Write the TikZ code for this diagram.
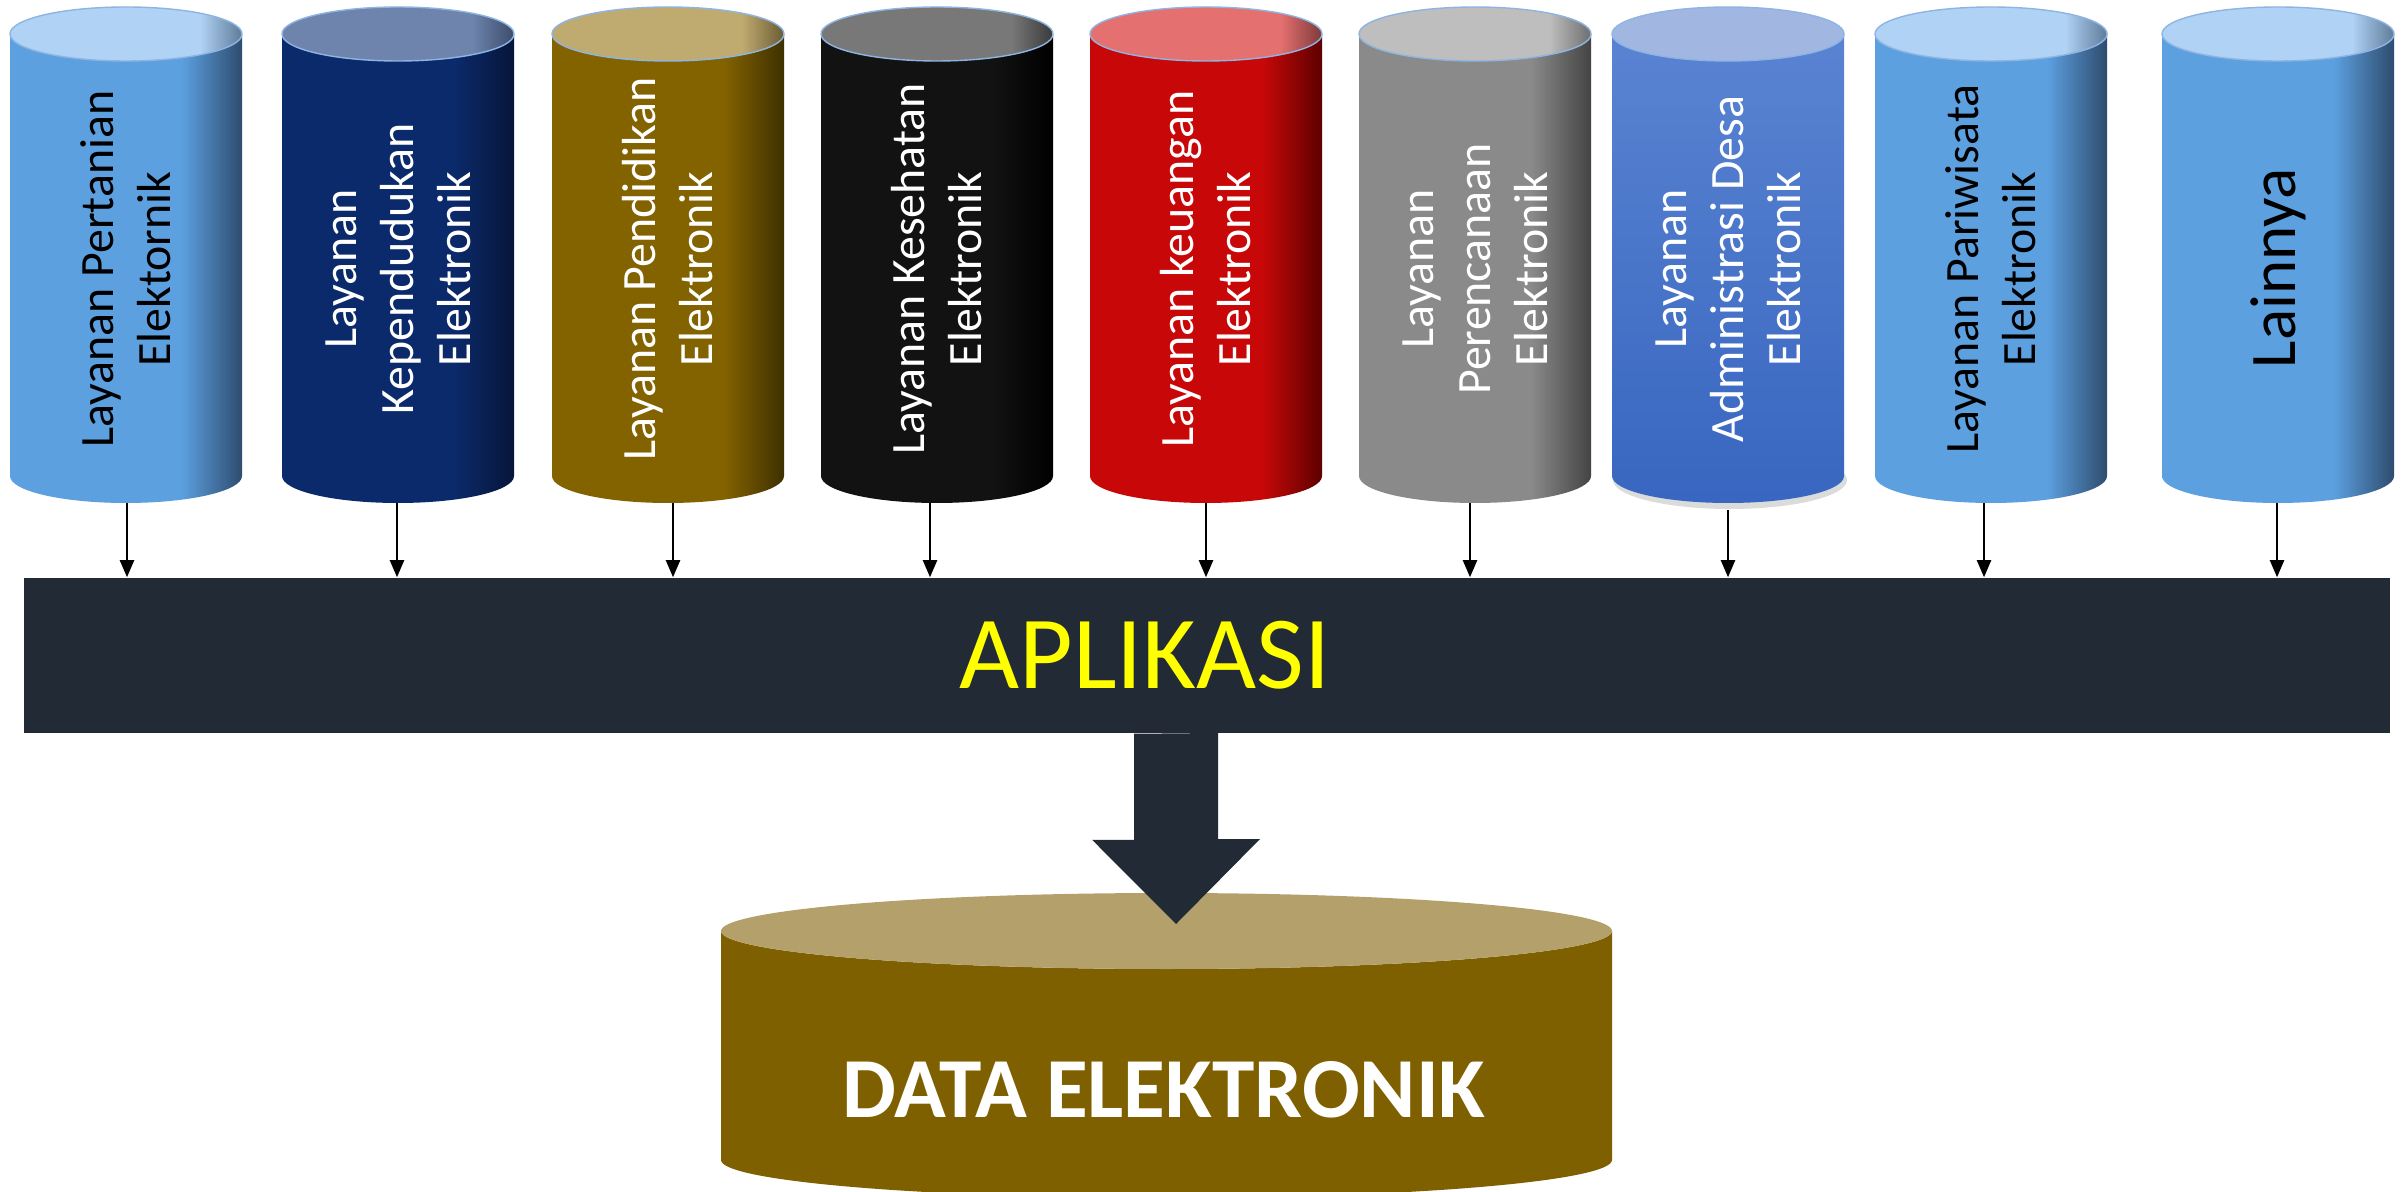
\documentclass[tikz,border=0pt]{standalone}
\usepackage{fontspec}
\setmainfont{Carlito}
\usetikzlibrary{arrows.meta}
\definecolor{barc}{HTML}{222A35}
\definecolor{rimc}{HTML}{8DB4E2}
% light blue
\definecolor{lbB}{HTML}{5CA0E0}\definecolor{lbD}{HTML}{2E4C6E}
\definecolor{lbT}{HTML}{B0D2F4}\definecolor{lbTD}{HTML}{5F7B9A}
% navy
\definecolor{nvB}{HTML}{0B2A6B}\definecolor{nvD}{HTML}{06153A}
\definecolor{nvT}{HTML}{6E84AC}\definecolor{nvTD}{HTML}{3C4C6C}
% olive
\definecolor{olB}{HTML}{836200}\definecolor{olD}{HTML}{3E3000}
\definecolor{olT}{HTML}{BFAA70}\definecolor{olTD}{HTML}{6A5C34}
% black
\definecolor{bkB}{HTML}{121212}\definecolor{bkD}{HTML}{000000}
\definecolor{bkT}{HTML}{787878}\definecolor{bkTD}{HTML}{3A3A3A}
% red
\definecolor{rdB}{HTML}{C80808}\definecolor{rdD}{HTML}{5E0000}
\definecolor{rdT}{HTML}{E57070}\definecolor{rdTD}{HTML}{7E3A3A}
% gray
\definecolor{gyB}{HTML}{8A8A8A}\definecolor{gyD}{HTML}{444444}
\definecolor{gyT}{HTML}{BEBEBE}\definecolor{gyTD}{HTML}{6E6E6E}
% blue 7
\definecolor{bsTop}{HTML}{5A84D2}\definecolor{bsBot}{HTML}{3866C0}
\definecolor{bsT}{HTML}{A2B6E2}
% data cylinder
\definecolor{dtB}{HTML}{7F6000}\definecolor{dtT}{HTML}{B3A06A}
\newcommand{\mkbodyshade}[3]{\pgfdeclarehorizontalshading{#1}{100bp}{color(0bp)=(#2); color(62bp)=(#2); color(75bp)=(#3); color(100bp)=(#3)}}
\newcommand{\mktopshade}[3]{\pgfdeclarehorizontalshading{#1}{100bp}{color(0bp)=(#2); color(66bp)=(#2); color(75bp)=(#3); color(100bp)=(#3)}}
\mkbodyshade{lbBody}{lbB}{lbD}\mktopshade{lbTop}{lbT}{lbTD}
\mkbodyshade{nvBody}{nvB}{nvD}\mktopshade{nvTop}{nvT}{nvTD}
\mkbodyshade{olBody}{olB}{olD}\mktopshade{olTop}{olT}{olTD}
\mkbodyshade{bkBody}{bkB}{bkD}\mktopshade{bkTop}{bkT}{bkTD}
\mkbodyshade{rdBody}{rdB}{rdD}\mktopshade{rdTop}{rdT}{rdTD}
\mkbodyshade{gyBody}{gyB}{gyD}\mktopshade{gyTop}{gyT}{gyTD}
\newcommand{\cylshape}[3]{%
  \path[#2] ({#1-116},-34) -- ({#1-116},-476) arc[start angle=180,end angle=360,x radius=116,y radius=27] -- ({#1+116},-34) arc[start angle=0,end angle=-180,x radius=116,y radius=27] -- cycle;
  \path[#3] (#1,-34) ellipse[x radius=116,y radius=27];}
\begin{document}
\begin{tikzpicture}[x=0.01cm,y=0.01cm,
  cyltext/.style={rotate=90, align=center, inner sep=0pt, font=\fontsize{13.6}{16.2}\selectfont},
  smallarr/.style={-{Triangle[length=0.17cm,width=0.14cm]}, line width=0.6pt, black},
  rim/.style={draw=rimc, line width=0.4pt}]
\useasboundingbox (0,0) rectangle (2407,-1192);
\fill[white] (0,0) rectangle (2407,-1192);

% cylinders
\cylshape{126}{shade, shading=lbBody}{shade, shading=lbTop, rim}
\cylshape{398}{shade, shading=nvBody}{shade, shading=nvTop, rim}
\cylshape{668}{shade, shading=olBody}{shade, shading=olTop, rim}
\cylshape{937}{shade, shading=bkBody}{shade, shading=bkTop, rim}
\cylshape{1206}{shade, shading=rdBody}{shade, shading=rdTop, rim}
\cylshape{1475}{shade, shading=gyBody}{shade, shading=gyTop, rim}
\fill[black!14] (1730,-480) ellipse[x radius=117, y radius=29];
\cylshape{1728}{top color=bsTop, bottom color=bsBot}{fill=bsT, rim}
\cylshape{1991}{shade, shading=lbBody}{shade, shading=lbTop, rim}
\cylshape{2278}{shade, shading=lbBody}{shade, shading=lbTop, rim}

% cylinder labels
\node[cyltext, text=black] (t1) at (126,-269) {Layanan Pertanian\\Elektornik};
\node[cyltext, text=white] (t2) at (398,-269) {Layanan\\Kependudukan\\Elektronik};
\node[cyltext, text=white] (t3) at (668,-269) {Layanan Pendidikan\\Elektronik};
\node[cyltext, text=white] (t4) at (937,-269) {Layanan Kesehatan\\Elektronik};
\node[cyltext, text=white] (t5) at (1206,-269) {Layanan keuangan\\Elektronik};
\node[cyltext, text=white] (t6) at (1475,-269) {Layanan\\Perencanaan\\Elektronik};
\node[cyltext, text=white] (t7) at (1728,-269) {Layanan\\Administrasi Desa\\Elektronik};
\node[cyltext, text=black] (t8) at (1991,-269) {Layanan Pariwisata\\Elektronik};
\node[cyltext, text=black, font=\fontsize{18.5}{22}\selectfont] (t9) at (2278,-268) {Lainnya};

% bar
\node[fill=barc, inner sep=0pt, minimum width=23.64cm, minimum height=1.55cm] (bar) at (1207,-655.5) {};
\node[text={rgb,1:red,1;green,1;blue,0}, inner sep=0pt, font=\fontsize{29.5}{35}\selectfont] (apl) at (1145,-655) {APLIKASI};

% arrows from cylinders to bar
\coordinate (a1) at (127,-503);
\coordinate (a2) at (397,-503);
\coordinate (a3) at (673,-503);
\coordinate (a4) at (930,-503);
\coordinate (a5) at (1206,-503);
\coordinate (a6) at (1470,-503);
\coordinate (a7) at (1728,-510);
\coordinate (a8) at (1984,-503);
\coordinate (a9) at (2277,-503);
\foreach \i in {1,...,9} {\draw[smallarr] (a\i) -- (a\i |- bar.north);}

% data cylinder
\path[fill=dtB] (721,-931) -- (721,-1160) arc[start angle=180,end angle=360,x radius=445.5,y radius=38] -- (1612,-931) arc[start angle=0,end angle=-180,x radius=445.5,y radius=38] -- cycle;
\fill[dtT] (1166.5,-931) ellipse[x radius=445.5, y radius=38];
\node[text=white, inner sep=0pt, font=\bfseries\fontsize{24.3}{29}\selectfont] (data) at (1164,-1090) {DATA ELEKTRONIK};

% big arrow from bar to data
\coordinate (dtip) at (1176,-924);
\fill[barc] (bar.south -| dtip) ++(-42,0) -- ++(0,-106) -- ++(-42,0) -- (dtip) -- ++(84,85) -- ++(-42,0) -- ++(0,106) -- cycle;
\end{tikzpicture}
\end{document}
